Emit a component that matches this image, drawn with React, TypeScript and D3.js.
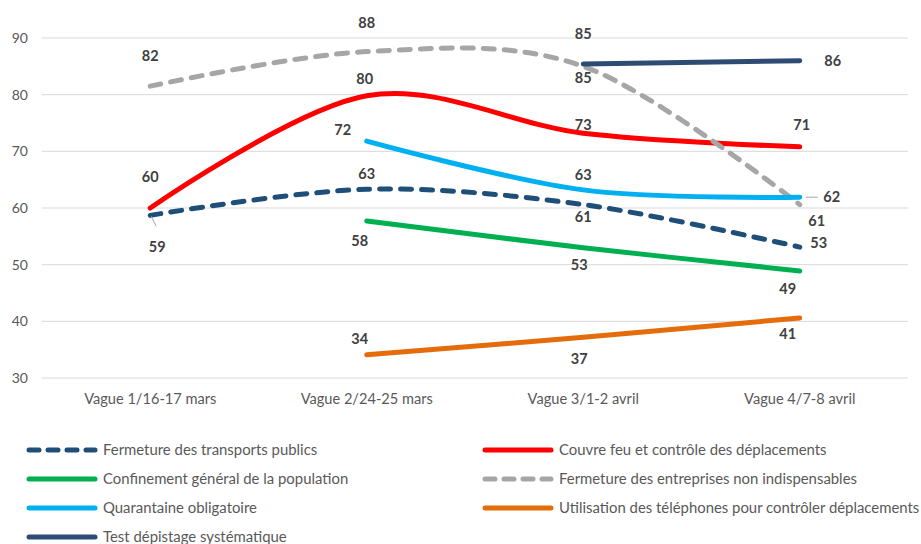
import React from "react";
import * as d3 from "d3";

const categories = ["Vague 1/16-17 mars", "Vague 2/24-25 mars", "Vague 3/1-2 avril", "Vague 4/7-8 avril"];
const yTicks = [30, 40, 50, 60, 70, 80, 90];

const transports = [58.7, 63.3, 60.6, 53.1];
const couvreFeu = [60.0, 79.8, 73.2, 70.8];
const confinement = [null, 57.7, 53.0, 48.9];
const entreprises = [81.5, 87.6, 85.0, 60.6];
const quarantaine = [null, 71.8, 63.2, 61.9];
const telephones = [null, 34.1, 37.2, 40.6];
const depistage = [null, null, 85.4, 86.0];

const transportsLabels = ["59", "63", "61", "53"];
const couvreFeuLabels = ["60", "80", "73", "71"];
const confinementLabels = [null, "58", "53", "49"];
const entreprisesLabels = ["82", "88", "85", "61"];
const quarantaineLabels = [null, "72", "63", "62"];
const telephonesLabels = [null, "34", "37", "41"];
const depistageLabels = [null, null, "85", "86"];

type Series = {
  name: string;
  values: (number | null)[];
  labels: (string | null)[];
  color: string;
  dash?: string;
  offsets: ([number, number] | null)[];
};

const series: Series[] = [
  { name: "Fermeture des transports publics", values: transports, labels: transportsLabels, color: "#1F4E79", dash: "11 10",
    offsets: [[7, 32], [0, -15], [0, 12], [19, -4]] },
  { name: "Couvre feu et contrôle des déplacements", values: couvreFeu, labels: couvreFeuLabels, color: "#FF0000",
    offsets: [[0, -31], [-2, -17], [0, -8], [2, -22]] },
  { name: "Confinement général de la population", values: confinement, labels: confinementLabels, color: "#00B050",
    offsets: [null, [-7, 20], [-4, 17], [-12, 18]] },
  { name: "Fermeture des entreprises non indispensables", values: entreprises, labels: entreprisesLabels, color: "#A6A6A6", dash: "11 10",
    offsets: [[0, -30], [0, -29], [0, -32], [17, 16]] },
  { name: "Quarantaine obligatoire", values: quarantaine, labels: quarantaineLabels, color: "#00B0F0",
    offsets: [null, [-24, -11], [0, -15], [32, 0]] },
  { name: "Utilisation des téléphones pour contrôler déplacements", values: telephones, labels: telephonesLabels, color: "#E46C0A",
    offsets: [null, [-7, -16], [-4, 22], [-12, 16]] },
  { name: "Test dépistage systématique", values: depistage, labels: depistageLabels, color: "#2E4C73",
    offsets: [null, null, [0, 14], [33, 0]] },
];

const legendOrder = [0, 1, 2, 3, 4, 5, 6];

export default function App() {
  const W = 921, H = 544;
  const x = d3.scaleBand<string>().domain(categories).range([42, 908]).paddingInner(0).paddingOuter(0);
  const cx = (i: number) => (x(categories[i]) as number) + x.bandwidth() / 2;
  const y = d3.scaleLinear().domain([30, 90]).range([378, 38]);
  const font = "Lato, 'Open Sans', sans-serif";

  const line = d3
    .line<{ i: number; v: number | null }>()
    .defined((d) => d.v != null)
    .x((d) => cx(d.i))
    .y((d) => y(d.v as number))
    .curve(d3.curveCardinal.tension(0));

  return (
    <svg width={W} height={H} style={{ position: "absolute", left: 0, top: 0, background: "#fff" }} fontFamily={font}>
      {yTicks.map((t) => (
        <g key={t}>
          <line x1={42} x2={908} y1={y(t)} y2={y(t)} stroke="#D9D9D9" strokeWidth={1} />
          <text x={28} y={y(t)} dy="0.35em" textAnchor="end" fontSize={14} fill="#595959">{t}</text>
        </g>
      ))}
      {categories.map((c, i) => (
        <text key={c} x={cx(i)} y={399} dy="0.35em" textAnchor="middle" fontSize={14.6} fill="#595959">{c}</text>
      ))}
      {series.map((s) => {
        const pts = s.values.map((v, i) => ({ i, v }));
        return (
          <path key={s.name} d={line(pts) || ""} fill="none" stroke={s.color} strokeWidth={5}
            strokeDasharray={s.dash} strokeLinecap="round" strokeLinejoin="round" />
        );
      })}
      {/* leader lines */}
      <line x1={cx(0) + 1} y1={y(transports[0]) + 1} x2={cx(0) + 6} y2={y(transports[0]) + 11} stroke="#A6A6A6" strokeWidth={1} />
      <line x1={cx(3) + 6} y1={y(quarantaine[3] as number)} x2={cx(3) + 18} y2={y(quarantaine[3] as number)} stroke="#A6A6A6" strokeWidth={1} />
      {series.map((s) =>
        s.values.map((v, i) => {
          const off = s.offsets[i];
          if (v == null || !off || !s.labels[i]) return null;
          return (
            <text key={s.name + i} x={cx(i) + off[0]} y={y(v) + off[1]} dy="0.35em" textAnchor="middle"
              fontSize={14.5} fontWeight="bold" fill="#404040">{s.labels[i]}</text>
          );
        })
      )}
      {legendOrder.map((k, j) => {
        const s = series[k];
        const col = j % 2;
        const row = Math.floor(j / 2);
        const lx = col === 0 ? 27 : 483;
        const ly = 450 + row * 29;
        return (
          <g key={s.name}>
            <line x1={lx + 2} x2={lx + 68} y1={ly} y2={ly} stroke={s.color} strokeWidth={5}
              strokeDasharray={s.dash ? "10 9" : undefined} strokeLinecap="round" />
            <text x={lx + 76} y={ly} dy="0.35em" fontSize={14.9} fill="#595959">{s.name}</text>
          </g>
        );
      })}
    </svg>
  );
}
